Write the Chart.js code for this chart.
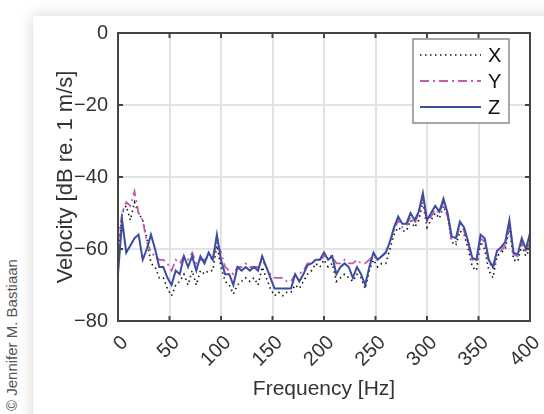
<!DOCTYPE html>
<html>
<head>
<meta charset="utf-8">
<script src="https://cdn.jsdelivr.net/npm/chart.js@4.4.0/dist/chart.umd.min.js"></script>
<style>
    html, body { margin: 0; padding: 0; background: #ffffff; }
    body { width: 544px; height: 414px; position: relative; overflow: hidden; }
    .card {
        position: absolute; left: 33px; top: 16px; width: 600px; height: 500px;
        background: #ffffff; box-shadow: 0 0 14px rgba(0,0,0,0.18);
    }
    .copy {
        position: absolute; left: 3px; top: 411px; transform-origin: 0 0;
        transform: rotate(-90deg); white-space: nowrap;
        font: 15px "Liberation Sans", Arial, sans-serif; color: #555;
    }
    #chart { position: absolute; left: 0; top: 0; }
</style>
</head>
<body>
<div class="card"></div>
<div class="copy">© Jennifer M. Bastiaan</div>
<canvas id="chart" width="544" height="414"></canvas>
<script>
// =========================================================================
// DATOS
// =========================================================================
const freqHz = [
    0, 4, 8, 12, 16, 20, 24, 28, 32, 36, 40, 44, 48, 52, 56, 60, 64, 68, 72, 76,
    80, 84, 88, 92, 96, 100, 104, 108, 112, 116, 120, 124, 128, 132, 136, 140, 144, 148, 152, 156,
    160, 164, 168, 172, 176, 180, 184, 188, 192, 196, 200, 204, 208, 212, 216, 220, 224, 228, 232, 236,
    240, 244, 248, 252, 256, 260, 264, 268, 272, 276, 280, 284, 288, 292, 296, 300, 304, 308, 312, 316,
    320, 324, 328, 332, 336, 340, 344, 348, 352, 356, 360, 364, 368, 372, 376, 380, 384, 388, 392, 396,
    400
];

const velX = [
    -62, -50, -48, -52, -47, -50, -52, -57, -64, -65, -68, -68, -71, -73, -70, -69, -67, -70, -66, -70,
    -66, -67, -66, -66, -59, -65, -69, -70, -72.5, -70, -69, -68, -69, -68, -70, -65, -68, -71, -73, -72,
    -73, -72, -72, -70, -71, -69, -67, -66, -64, -65, -63, -65, -64, -69, -68, -67, -68, -69, -67, -68,
    -71, -66, -63, -65, -64, -64, -60, -56, -54, -55, -55, -52, -54, -52, -47, -54, -52, -50, -51.5, -48,
    -51, -58, -59, -55, -56, -60, -65, -66, -58, -60, -66, -68, -62, -61, -60, -54, -63, -63.5, -59, -62,
    -60
];

const velY = [
    -58, -50, -47, -48, -44, -50, -52, -58, -61, -62, -63, -63, -64, -66, -63, -64, -62, -63, -61, -64,
    -63, -63, -62, -63, -58, -61, -65, -66, -67, -65, -65, -64, -65, -65, -65, -63, -65, -67, -68, -68,
    -68, -69, -69, -67, -67, -66, -64, -64, -63, -63, -62, -62, -62, -64, -64, -63, -64, -64, -63, -64,
    -64, -63, -62, -63, -62, -61, -58, -55, -52, -54, -53.5, -51, -53, -50, -45.5, -52.5, -51, -49, -50, -47,
    -51, -57.5, -58, -53, -55, -58.5, -63, -63.5, -57, -58, -63.5, -65.5, -61.5, -60.5, -59, -53, -61.5, -62, -58, -61,
    -58
];

const velZ = [
    -67, -52, -61, -59, -57, -56, -63, -60, -56, -60, -65, -65, -68, -70, -66, -67, -62, -65, -62, -66,
    -62, -64, -61, -63, -56, -63, -67, -67, -70, -65, -66, -65, -66, -65, -66, -62, -65, -68, -71, -71,
    -71, -71, -71, -67, -69, -67, -64.5, -64, -63, -63, -61, -63, -62, -67, -65, -64, -65, -68, -65, -67,
    -70, -65, -61, -63, -62, -61, -58, -54, -51, -53, -53, -50, -52, -49.6, -44.5, -52, -50, -48, -49.6, -46,
    -50, -56.5, -57, -52.4, -54, -58, -62.5, -63, -56, -57, -63, -65, -60.5, -59.5, -58, -52, -61, -61.5, -57, -60,
    -55.6
];

const xTicks = [0, 50, 100, 150, 200, 250, 300, 350, 400];
const yTicks = [0, -20, -40, -60, -80];

// =========================================================================
// ESTILO
// =========================================================================
const FONT = '"Liberation Sans", Arial, sans-serif';
const TEXT = '#333333';
const FRAME = '#454545';

const toPts = (vals) => vals.map((v, i) => ({ x: freqHz[i], y: v }));

// Marco + ticks interiores + leyenda
const framePlugin = {
    id: 'frame',
    afterDraw(chart) {
        const { ctx, chartArea: a, scales } = chart;
        ctx.save();
        ctx.strokeStyle = FRAME;
        ctx.lineWidth = 2;
        ctx.strokeRect(a.left, a.top, a.right - a.left, a.bottom - a.top);
        ctx.beginPath();
        xTicks.forEach(t => {
            const px = scales.x.getPixelForValue(t);
            ctx.moveTo(px, a.bottom); ctx.lineTo(px, a.bottom - 5);
            ctx.moveTo(px, a.top); ctx.lineTo(px, a.top + 5);
        });
        yTicks.forEach(t => {
            const py = scales.y.getPixelForValue(t);
            ctx.moveTo(a.left, py); ctx.lineTo(a.left + 5, py);
            ctx.moveTo(a.right, py); ctx.lineTo(a.right - 5, py);
        });
        ctx.stroke();

        // Leyenda
        const bx = 413, by = 39, bw = 96, bh = 84;
        ctx.fillStyle = '#ffffff';
        ctx.fillRect(bx, by, bw, bh);
        ctx.strokeStyle = '#8a8a8a';
        ctx.lineWidth = 1.5;
        ctx.strokeRect(bx, by, bw, bh);
        ctx.font = '20px ' + FONT;
        ctx.textBaseline = 'middle';
        chart.data.datasets.forEach((ds, i) => {
            const yy = by + 16 + i * 26;
            ctx.strokeStyle = ds.borderColor;
            ctx.lineWidth = ds.borderWidth;
            ctx.setLineDash(ds.borderDash || []);
            ctx.beginPath();
            ctx.moveTo(bx + 7, yy); ctx.lineTo(bx + 68, yy);
            ctx.stroke();
            ctx.setLineDash([]);
            ctx.fillStyle = '#111';
            ctx.fillText(ds.label, bx + 75, yy + 1);
        });
        ctx.restore();
    }
};

new Chart(document.getElementById('chart').getContext('2d'), {
    type: 'line',
    data: {
        datasets: [
            {
                label: 'X', data: toPts(velX), order: 3,
                borderColor: '#111111', borderWidth: 1.6, borderDash: [1.5, 3.5],
                pointRadius: 0, tension: 0, fill: false
            },
            {
                label: 'Y', data: toPts(velY), order: 2,
                borderColor: '#c25ab0', borderWidth: 1.8, borderDash: [9, 4, 2, 4],
                pointRadius: 0, tension: 0, fill: false
            },
            {
                label: 'Z', data: toPts(velZ), order: 1,
                borderColor: '#3a4da3', borderWidth: 2, borderDash: [],
                pointRadius: 0, tension: 0, fill: false
            }
        ]
    },
    options: {
        responsive: false,
        animation: false,
        events: [],
        layout: { padding: { left: 0, top: 33, right: 14, bottom: 0 } },
        plugins: { legend: { display: false }, tooltip: { enabled: false } },
        scales: {
            x: {
                type: 'linear', min: 0, max: 400,
                afterFit: (s) => { s.height = 93; s.paddingRight = 0; s.paddingLeft = 0; },
                afterBuildTicks: (s) => { s.ticks = xTicks.map(v => ({ value: v })); },
                grid: { color: '#e3e3e3', lineWidth: 2, drawTicks: false },
                border: { display: false },
                ticks: {
                    color: TEXT, font: { family: FONT, size: 20 },
                    minRotation: 45, maxRotation: 45, padding: 10, labelOffset: 7
                },
                title: {
                    display: true, text: 'Frequency [Hz]', color: TEXT,
                    font: { family: FONT, size: 21 }, padding: { top: 0, bottom: 12 }
                }
            },
            y: {
                min: -80, max: 0,
                afterFit: (s) => { s.width = 118; },
                afterBuildTicks: (s) => { s.ticks = yTicks.map(v => ({ value: v })); },
                grid: { color: '#e3e3e3', lineWidth: 2, drawTicks: false },
                border: { display: false },
                ticks: {
                    color: TEXT, font: { family: FONT, size: 20 }, padding: 10,
                    callback: (v) => String(v).replace('-', '\u2212')
                },
                title: {
                    display: true, text: 'Velocity [dB re. 1 m/s]', color: TEXT,
                    font: { family: FONT, size: 22 }, padding: { top: 53, bottom: 0 }
                }
            }
        }
    },
    plugins: [framePlugin]
});
</script>
</body>
</html>
